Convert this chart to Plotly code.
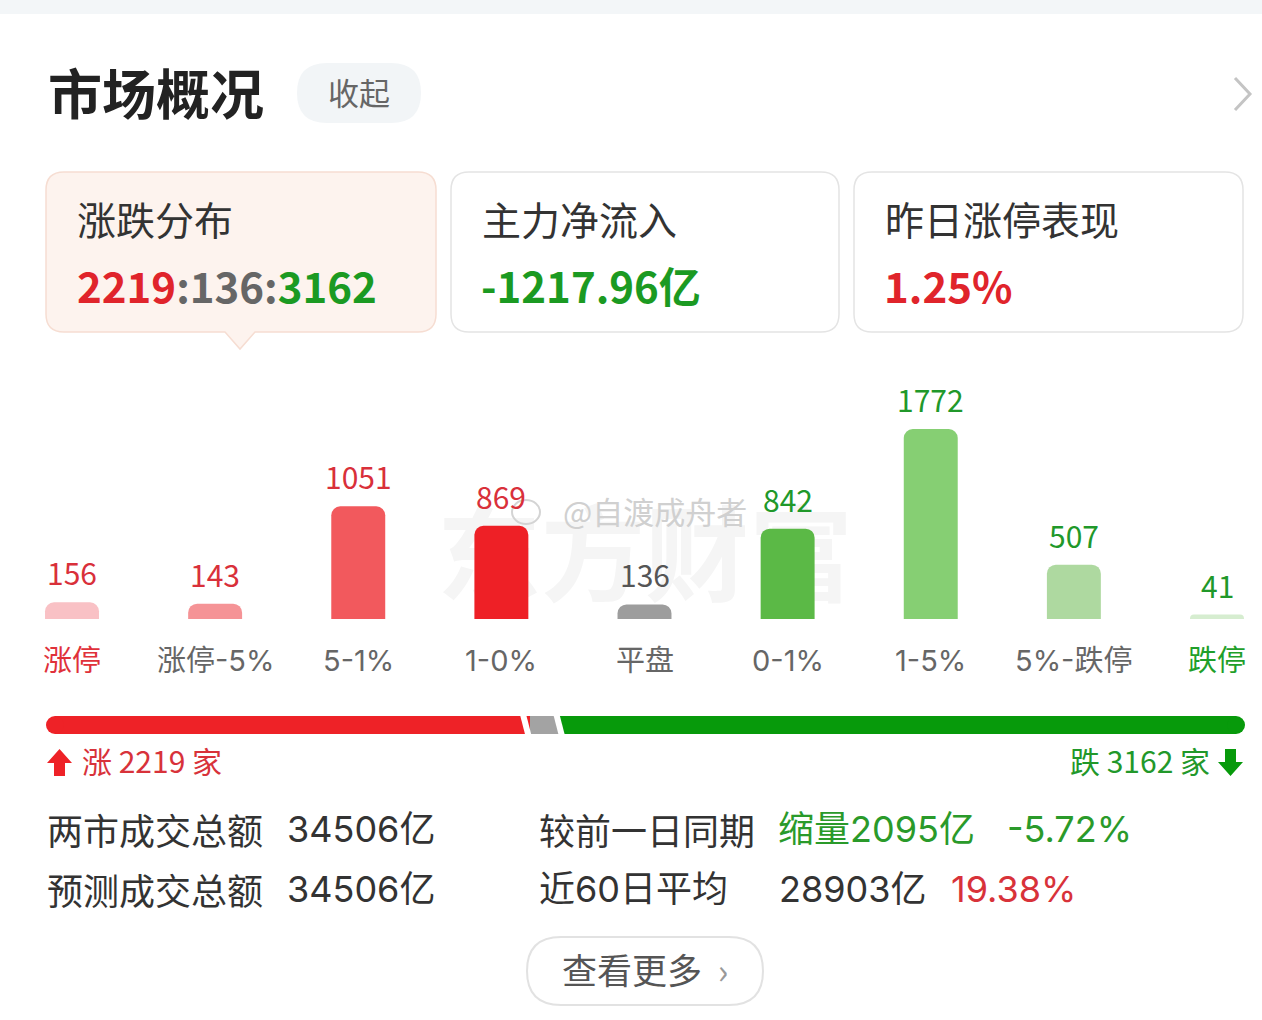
import plotly.graph_objects as go

W, H = 1262, 1020

# ---------------- data ----------------
categories = ["涨停", "涨停-5%", "5-1%", "1-0%", "平盘", "0-1%", "1-5%", "5%-跌停", "跌停"]
counts = [156, 143, 1051, 869, 136, 842, 1772, 507, 41]
bar_colors = ["#f9c1c5", "#f59396", "#f2595d", "#ee2026", "#9d9d9d",
              "#5bb946", "#86cf73", "#aed9a0", "#d6edd0"]
value_colors = ["#d9303a"] * 4 + ["#555555"] + ["#21982a"] * 4
label_colors = ["#e0313a"] + ["#666666"] * 7 + ["#1f9f2a"]

main_net_inflow = "-1217.96"   # 亿
limit_up_perf = "1.25"         # %
turnover_total = "34506"
turnover_forecast = "34506"
shrink_vs_prev = "2095"
shrink_pct = "-5.72"
avg60 = "28903"
avg60_pct = "19.38"

up_total = sum(counts[:4])
flat_total = counts[4]
down_total = sum(counts[5:])
all_total = up_total + flat_total + down_total

FONT = "Noto Sans CJK SC"
NUMFONT = "Inter, Noto Sans CJK SC"
RED = "#e0242b"
GREEN = "#1b9a22"


def X(x):
    return x / W


def Y(y):
    return 1 - y / H


def rr(x0, y0, x1, y1, r, pointer=None):
    p = f"M {X(x0 + r)},{Y(y0)} L {X(x1 - r)},{Y(y0)} Q {X(x1)},{Y(y0)} {X(x1)},{Y(y0 + r)} "
    p += f"L {X(x1)},{Y(y1 - r)} Q {X(x1)},{Y(y1)} {X(x1 - r)},{Y(y1)} "
    if pointer:
        cx, w, h = pointer
        p += f"L {X(cx + w)},{Y(y1)} L {X(cx)},{Y(y1 + h)} L {X(cx - w)},{Y(y1)} "
    p += f"L {X(x0 + r)},{Y(y1)} Q {X(x0)},{Y(y1)} {X(x0)},{Y(y1 - r)} "
    p += f"L {X(x0)},{Y(y0 + r)} Q {X(x0)},{Y(y0)} {X(x0 + r)},{Y(y0)} Z"
    return p


def poly(pts):
    return "M " + " L ".join(f"{X(a)},{Y(b)}" for a, b in pts) + " Z"


fig = go.Figure()

# ---------------- distribution bars ----------------
fig.add_trace(go.Bar(
    x=list(range(len(categories))), y=counts, width=0.377,
    marker=dict(color=bar_colors, cornerradius=9, line=dict(width=0)),
    xaxis="x", yaxis="y", hoverinfo="skip", showlegend=False))

for i, (c, v) in enumerate(zip(categories, counts)):
    fig.add_annotation(x=i, y=v, xref="x", yref="y", text=str(v), showarrow=False,
                       yanchor="bottom", yshift=6,
                       font=dict(family=FONT, size=30, color=value_colors[i]))
    fig.add_annotation(x=i, y=Y(660), xref="x", yref="paper", text=c, showarrow=False,
                       yanchor="middle",
                       font=dict(family=NUMFONT, size=29, color=label_colors[i]))

# ---------------- progress bar ----------------
seg_vals = [up_total, flat_total, down_total]
seg_base = [0, up_total, up_total + flat_total]
seg_cols = ["#ee2227", "#a3a3a3", "#079a0b"]
for v, b, col in zip(seg_vals, seg_base, seg_cols):
    fig.add_trace(go.Bar(y=[0], x=[v], base=b, orientation="h", width=1,
                         marker=dict(color=col, line=dict(width=0)),
                         xaxis="x2", yaxis="y2", hoverinfo="skip", showlegend=False))
fig.add_trace(go.Scatter(x=[0], y=[0], mode="markers", xaxis="x2", yaxis="y2",
                         marker=dict(size=18, color=seg_cols[0], line=dict(width=0)),
                         hoverinfo="skip", showlegend=False))
fig.add_trace(go.Scatter(x=[all_total], y=[0], mode="markers", xaxis="x2", yaxis="y2",
                         marker=dict(size=18, color=seg_cols[2], line=dict(width=0)),
                         hoverinfo="skip", showlegend=False))
for b in [up_total - 20, up_total + flat_total]:
    fig.add_shape(type="line", xref="x2", yref="y2", x0=b - 13, y0=0.6, x1=b + 13, y1=-0.6,
                  line=dict(color="white", width=6))

shapes = []
# top strip
shapes.append(dict(type="rect", xref="paper", yref="paper", x0=0, x1=1, y0=Y(14), y1=1,
                   fillcolor="#f3f6f8", line=dict(width=0), layer="below"))
# collapse pill
shapes.append(dict(type="path", xref="paper", yref="paper", path=rr(297, 63, 421, 123, 30),
                   fillcolor="#f2f5f7", line=dict(width=0), layer="below"))
# chevron
shapes.append(dict(type="path", xref="paper", yref="paper",
                   path=f"M {X(1235)},{Y(78)} L {X(1250)},{Y(94)} L {X(1235)},{Y(110)}",
                   line=dict(color="#c4c4c4", width=3), layer="below"))
# cards
shapes.append(dict(type="path", xref="paper", yref="paper",
                   path=rr(46, 172, 436, 332, 18, pointer=(240, 15, 17)),
                   fillcolor="#fdf3ee", line=dict(color="#f6ddd2", width=1.5), layer="below"))
for x0, x1 in [(451, 839), (854, 1243)]:
    shapes.append(dict(type="path", xref="paper", yref="paper", path=rr(x0, 172, x1, 332, 18),
                       fillcolor="white", line=dict(color="#e4e4e4", width=1.5), layer="below"))
# more button
shapes.append(dict(type="path", xref="paper", yref="paper", path=rr(527, 937, 763, 1005, 34),
                   fillcolor="white", line=dict(color="#e2e2e2", width=2), layer="below"))
# faint watermark
shapes.append(dict(type="rect", xref="paper", yref="paper", x0=X(430), x1=X(860), y0=Y(618), y1=Y(512),
                   line=dict(width=0), fillcolor="rgba(0,0,0,0)", layer="below",
                   label=dict(text="<b>东方财富</b>", font=dict(family=FONT, size=104, color="#f5f5f5"))))
# arrows
shapes.append(dict(type="path", xref="paper", yref="paper",
                   path=poly([(47, 763), (59.5, 749), (72, 763), (65, 763), (65, 776), (54, 776), (54, 763)]),
                   fillcolor="#ee2227", line=dict(width=0)))
shapes.append(dict(type="path", xref="paper", yref="paper",
                   path=poly([(1218, 762), (1230.5, 776), (1243, 762), (1236, 762), (1236, 749), (1225, 749), (1225, 762)]),
                   fillcolor="#079a0b", line=dict(width=0)))
# weibo logo hint
shapes.append(dict(type="circle", xref="paper", yref="paper", x0=X(512), x1=X(540), y0=Y(524), y1=Y(500),
                   fillcolor="rgba(255,255,255,0)", line=dict(color="#d4d4d4", width=2)))
for s in shapes:
    fig.add_shape(**s)


def txt(x, y, text, size, color="#333333", xanchor="left", family=FONT):
    fig.add_annotation(x=X(x), y=Y(y), xref="paper", yref="paper", text=text, showarrow=False,
                       xanchor=xanchor, yanchor="middle",
                       font=dict(family=family, size=size, color=color))


# header
txt(46, 91, "<b>市场概况</b>", 54, "#222222")
txt(359, 91, "收起", 31, "#666666", xanchor="center")

# cards
txt(75, 218, "涨跌分布", 39, "#333333")
txt(480, 218, "主力净流入", 39, "#333333")
txt(883, 218, "昨日涨停表现", 39, "#333333")
txt(75, 284, f"<b><span style='color:{RED}'>{up_total}</span>"
             f"<span style='color:#666666'>:{flat_total}:</span>"
             f"<span style='color:{GREEN}'>{down_total}</span></b>", 42)
txt(479, 284, f"<b>{main_net_inflow}亿</b>", 42, GREEN)
txt(882, 284, f"<b>{limit_up_perf}%</b>", 42, RED)

# watermark
txt(561, 510, "@自渡成舟者", 31, "#d0d0d0")

# progress labels
txt(80, 760, f"涨 {up_total} 家", 30, "#d8323a")
txt(1212, 760, f"跌 {down_total} 家", 30, "#22982a", xanchor="right")

# bottom stats
S = 36
txt(45, 829, "两市成交总额", S, "#333333")
txt(285, 829, f"{turnover_total}亿", S, "#333333", family=NUMFONT)
txt(537, 829, "较前一日同期", S, "#333333")
txt(776, 829, f"缩量{shrink_vs_prev}亿", S, "#2a9a2a", family=NUMFONT)
txt(1005, 829, f"{shrink_pct}%", S, "#2a9a2a", family=NUMFONT)
txt(45, 889, "预测成交总额", S, "#333333")
txt(285, 889, f"{turnover_forecast}亿", S, "#333333", family=NUMFONT)
txt(537, 889, "近60日平均", S, "#333333", family=NUMFONT)
txt(777, 889, f"{avg60}亿", S, "#333333", family=NUMFONT)
txt(949, 889, f"{avg60_pct}%", S, "#d8323a", family=NUMFONT)
txt(645, 968, "查看更多  <span style='color:#999999'>›</span>", 35, "#555555", xanchor="center")

# ---------------- layout ----------------
px_per_cat = (1217 - 72) / 8
scale = 190 / 1772
prog_upp = all_total / (1236 - 55)

fig.update_layout(
    width=W, height=H, margin=dict(l=0, r=0, t=0, b=0),
    paper_bgcolor="white", plot_bgcolor="rgba(0,0,0,0)",
    barmode="overlay", showlegend=False,
    xaxis=dict(domain=[0, 1], range=[-72 / px_per_cat, (W - 72) / px_per_cat], visible=False,
               fixedrange=True),
    yaxis=dict(domain=[Y(619), Y(380)], range=[0, (619 - 380) / scale], visible=False,
               fixedrange=True),
    xaxis2=dict(domain=[0, 1], anchor="y2", range=[-55 * prog_upp, all_total + (W - 1236) * prog_upp],
                visible=False, fixedrange=True),
    yaxis2=dict(domain=[Y(734), Y(716)], anchor="x2", range=[-0.5, 0.5], visible=False,
                fixedrange=True),
)

fig.write_html("out.html", config={"displayModeBar": False})
